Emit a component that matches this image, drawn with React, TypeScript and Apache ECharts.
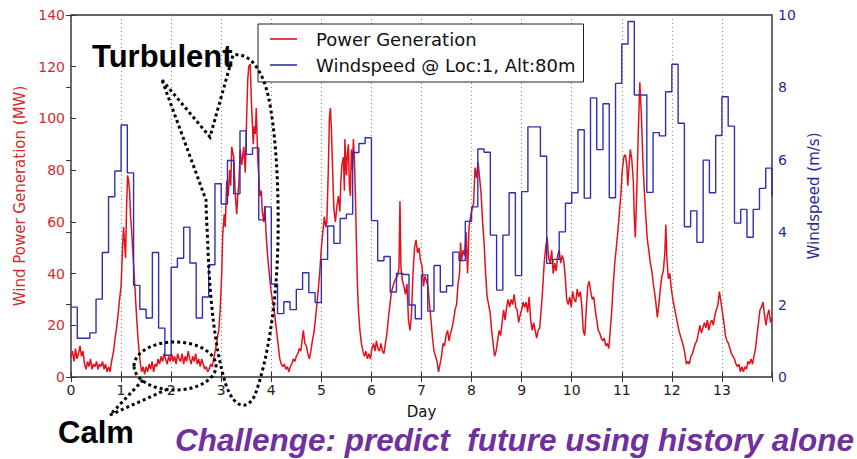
import React, { useEffect, useRef } from "react";
import * as echarts from "echarts";

// ---------- data ----------
// Power generation (MW) : [day, MW]
const powerGeneration: [number, number][] = [
  [0, 8], [0.03, 10], [0.06, 6], [0.09, 11], [0.12, 7], [0.15, 9], [0.18, 12], [0.21, 8], [0.24, 10], [0.27, 5],
  [0.3, 3], [0.33, 6], [0.36, 4], [0.39, 7], [0.42, 3], [0.45, 5], [0.48, 4], [0.51, 6], [0.54, 3], [0.57, 5],
  [0.6, 4], [0.63, 6], [0.66, 3], [0.69, 5], [0.72, 2], [0.75, 4], [0.78, 2], [0.81, 6], [0.85, 10], [0.88, 15],
  [0.91, 19], [0.94, 24], [0.97, 30], [1.0, 35], [1.03, 50], [1.05, 58], [1.07, 52], [1.09, 46], [1.11, 66], [1.13, 78],
  [1.15, 76], [1.17, 72], [1.19, 62], [1.21, 57], [1.23, 50], [1.26, 40], [1.29, 30], [1.32, 20], [1.35, 12], [1.38, 6],
  [1.41, 2], [1.44, 4], [1.47, 1], [1.5, 4], [1.53, 2], [1.56, 5], [1.59, 3], [1.62, 6], [1.65, 2], [1.68, 5],
  [1.71, 4], [1.74, 7], [1.77, 5], [1.8, 8], [1.83, 6], [1.86, 9], [1.89, 7], [1.92, 5], [1.95, 8], [1.98, 6],
  [2.01, 9], [2.04, 6], [2.07, 8], [2.1, 5], [2.13, 9], [2.16, 7], [2.19, 6], [2.22, 9], [2.25, 5], [2.28, 8],
  [2.31, 6], [2.34, 10], [2.37, 7], [2.4, 5], [2.43, 8], [2.46, 6], [2.49, 9], [2.52, 5], [2.55, 7], [2.58, 4],
  [2.61, 7], [2.64, 5], [2.67, 3], [2.7, 4], [2.73, 2], [2.76, 3], [2.79, 5], [2.82, 4], [2.86, 8], [2.9, 12],
  [2.93, 16], [2.95, 18], [2.98, 26], [3.01, 40], [3.03, 55], [3.06, 63], [3.08, 58], [3.11, 76], [3.14, 70], [3.17, 80],
  [3.19, 74], [3.21, 89], [3.25, 85], [3.28, 71], [3.31, 63], [3.33, 70], [3.35, 74], [3.38, 88], [3.41, 82], [3.45, 89],
  [3.48, 79], [3.51, 102], [3.53, 115], [3.55, 120], [3.58, 121], [3.6, 108], [3.62, 99], [3.64, 90], [3.66, 97], [3.68, 94],
  [3.7, 104], [3.73, 84], [3.75, 78], [3.77, 70], [3.8, 72], [3.82, 64], [3.85, 60], [3.87, 66], [3.9, 54], [3.93, 46],
  [3.96, 40], [3.99, 34], [4.02, 30], [4.05, 27], [4.08, 22], [4.11, 17], [4.14, 12], [4.17, 7], [4.2, 5], [4.23, 4],
  [4.26, 5], [4.29, 3], [4.32, 4], [4.35, 2], [4.38, 4], [4.41, 5], [4.44, 7], [4.47, 6], [4.5, 8], [4.53, 9],
  [4.56, 11], [4.59, 10], [4.62, 15], [4.64, 18], [4.67, 13], [4.7, 12], [4.73, 9], [4.76, 7], [4.79, 10], [4.82, 14],
  [4.85, 17], [4.88, 22], [4.91, 28], [4.94, 34], [4.97, 41], [5.0, 50], [5.03, 56], [5.06, 62], [5.09, 58], [5.11, 60],
  [5.14, 81], [5.16, 100], [5.18, 104], [5.2, 96], [5.23, 77], [5.25, 65], [5.28, 60], [5.31, 66], [5.34, 70], [5.37, 64],
  [5.39, 76], [5.41, 82], [5.44, 85], [5.46, 72], [5.47, 92], [5.5, 78], [5.52, 86], [5.54, 90], [5.56, 74], [5.58, 70],
  [5.6, 88], [5.62, 80], [5.64, 92], [5.66, 84], [5.68, 70], [5.7, 52], [5.72, 36], [5.74, 26], [5.77, 18], [5.8, 13],
  [5.83, 10], [5.86, 8], [5.89, 10], [5.92, 7], [5.95, 9], [5.98, 7], [6.01, 11], [6.04, 13], [6.07, 10], [6.1, 14],
  [6.13, 11], [6.16, 10], [6.19, 13], [6.22, 10], [6.25, 9], [6.28, 13], [6.31, 17], [6.34, 23], [6.37, 28], [6.4, 33],
  [6.43, 35], [6.46, 37], [6.49, 38], [6.52, 39], [6.55, 42], [6.57, 68], [6.59, 42], [6.62, 37], [6.65, 35], [6.68, 32],
  [6.71, 36], [6.74, 22], [6.77, 18], [6.8, 24], [6.83, 40], [6.86, 50], [6.89, 53], [6.92, 48], [6.95, 50], [6.98, 45],
  [7.01, 43], [7.04, 35], [7.07, 39], [7.1, 37], [7.13, 35], [7.16, 28], [7.19, 22], [7.22, 15], [7.25, 10], [7.28, 8],
  [7.31, 6], [7.34, 2], [7.37, 5], [7.4, 8], [7.43, 13], [7.46, 12], [7.49, 16], [7.52, 18], [7.55, 14], [7.58, 17],
  [7.61, 19], [7.64, 22], [7.67, 26], [7.7, 28], [7.73, 36], [7.76, 40], [7.78, 52], [7.8, 45], [7.83, 49], [7.86, 47],
  [7.89, 56], [7.92, 40], [7.95, 58], [7.98, 62], [8.01, 65], [8.04, 67], [8.07, 81], [8.1, 77], [8.13, 83], [8.16, 77],
  [8.19, 71], [8.22, 60], [8.25, 52], [8.28, 40], [8.31, 31], [8.34, 28], [8.37, 25], [8.4, 18], [8.43, 13], [8.46, 8],
  [8.49, 10], [8.52, 14], [8.55, 18], [8.58, 16], [8.61, 21], [8.64, 26], [8.67, 22], [8.7, 27], [8.73, 30], [8.76, 27],
  [8.79, 30], [8.82, 28], [8.85, 32], [8.88, 27], [8.91, 26], [8.94, 21], [8.97, 24], [9.0, 26], [9.03, 29], [9.06, 27],
  [9.09, 29], [9.12, 25], [9.15, 31], [9.18, 22], [9.21, 18], [9.24, 21], [9.27, 18], [9.3, 15], [9.33, 18], [9.36, 19],
  [9.39, 26], [9.42, 34], [9.45, 44], [9.48, 50], [9.51, 54], [9.54, 46], [9.57, 44], [9.6, 49], [9.63, 40], [9.66, 44],
  [9.69, 41], [9.72, 47], [9.75, 49], [9.78, 44], [9.81, 47], [9.84, 45], [9.87, 39], [9.9, 30], [9.93, 28], [9.96, 31],
  [9.99, 27], [10.02, 33], [10.05, 30], [10.08, 29], [10.11, 34], [10.14, 31], [10.17, 33], [10.2, 28], [10.23, 18], [10.26, 16],
  [10.29, 26], [10.32, 35], [10.35, 37], [10.38, 33], [10.41, 30], [10.44, 31], [10.47, 26], [10.5, 22], [10.53, 18], [10.56, 17],
  [10.59, 15], [10.62, 14], [10.65, 15], [10.68, 12], [10.71, 13], [10.74, 11], [10.77, 18], [10.8, 26], [10.83, 36], [10.86, 44],
  [10.89, 50], [10.92, 56], [10.95, 63], [10.98, 70], [11.01, 80], [11.04, 85], [11.07, 86], [11.1, 82], [11.12, 74], [11.15, 83],
  [11.17, 88], [11.2, 84], [11.23, 76], [11.25, 62], [11.27, 54], [11.3, 72], [11.33, 95], [11.36, 114], [11.39, 102], [11.42, 84],
  [11.45, 72], [11.48, 62], [11.51, 53], [11.54, 49], [11.57, 44], [11.6, 41], [11.63, 36], [11.66, 32], [11.69, 27], [11.71, 23],
  [11.74, 28], [11.77, 34], [11.8, 39], [11.83, 41], [11.86, 48], [11.88, 59], [11.9, 46], [11.93, 38], [11.96, 40], [11.99, 34],
  [12.02, 30], [12.05, 27], [12.08, 24], [12.11, 21], [12.14, 18], [12.17, 16], [12.2, 14], [12.23, 12], [12.26, 9], [12.29, 5],
  [12.32, 6], [12.35, 5], [12.38, 8], [12.41, 9], [12.44, 11], [12.47, 13], [12.5, 14], [12.53, 17], [12.56, 20], [12.59, 17],
  [12.62, 19], [12.65, 21], [12.68, 19], [12.71, 22], [12.74, 18], [12.77, 21], [12.8, 22], [12.83, 20], [12.86, 24], [12.89, 26],
  [12.92, 28], [12.95, 33], [12.98, 29], [13.01, 25], [13.04, 21], [13.07, 16], [13.1, 14], [13.13, 13], [13.16, 11], [13.19, 9],
  [13.22, 8], [13.25, 7], [13.28, 5], [13.31, 4], [13.34, 5], [13.37, 2], [13.4, 4], [13.43, 2], [13.46, 4], [13.49, 3],
  [13.52, 6], [13.55, 5], [13.58, 7], [13.61, 5], [13.64, 8], [13.67, 11], [13.7, 16], [13.73, 21], [13.76, 26], [13.79, 27],
  [13.82, 29], [13.85, 24], [13.88, 20], [13.91, 24], [13.94, 26], [13.97, 21], [14.0, 23],
];

// Windspeed (m/s), one value per 3-hour step (8 per day), days 0..14
const WIND_STEP_DAYS = 0.125;
const windspeed: number[] = [
  1.93, 1.07, 1.07, 1.22, 2.15, 3.44, 4.98, 5.69,
  6.96, 5.64, 2.53, 1.87, 1.63, 3.44, 1.35, 0.6,
  3.03, 3.28, 4.14, 3.15, 1.63, 2.21, 3.1, 5.34,
  4.78, 5.98, 5.06, 6.8, 6.15, 6.33, 4.34, 4.7,
  2.57, 1.75, 2.08, 1.86, 2.42, 2.88, 2.33, 2.06,
  3.25, 4.17, 3.69, 4.38, 4.5, 6.2, 6.45, 6.61,
  4.32, 3.21, 3.33, 2.35, 2.86, 2.83, 1.99, 1.61,
  2.82, 1.82, 3.08, 2.35, 2.52, 3.45, 3.22, 4.3,
  4.7, 6.3, 6.21, 3.92, 2.4, 3.92, 5.09, 2.8,
  5.12, 6.91, 6.91, 6.1, 3.14, 3.25, 4.01, 4.8,
  5.09, 6.83, 4.94, 7.71, 6.28, 7.55, 4.95, 8.11,
  9.2, 9.82, 7.79, 7.79, 5.1, 6.75, 6.66, 7.88,
  8.64, 7.01, 4.15, 4.59, 3.72, 5.99, 5.09, 6.67,
  7.74, 6.93, 4.25, 4.63, 3.86, 4.63, 5.21, 5.77,
];
const windspeedAtEnd = 5.0;

const dayLabels = ["0", "1", "2", "3", "4", "5", "6", "7", "8", "9", "10", "11", "12", "13"];
const seriesNames = ["Power Generation", "Windspeed @ Loc:1, Alt:80m"];

// ---------- annotation outline (speech-bubble around the turbulent peak) ----------
const TURBULENT_OUTLINE =
  "M162 80 L210 137 L233 55 C250 52 262 70 268 95 C276 130 279 190 278 240 " +
  "C277 300 268 360 255 395 C248 410 235 410 226 385 C215 350 210 300 208 250 " +
  "C207 225 206 210 206 200 Z";
echarts.graphic.registerShape(
  "turbulentOutline",
  echarts.graphic.extendPath(TURBULENT_OUTLINE, {}) as any
);
const CALM_TAIL = "M143 380 L110 415 L168 389";
echarts.graphic.registerShape("calmTail", echarts.graphic.extendPath(CALM_TAIL, {}) as any);

const RED = "#e5101a";
const BLUE = "#2f2fb0";
const RED_TEXT = "#d22b2b";
const BLUE_TEXT = "#2a2a96";
const FONT = "'DejaVu Sans', Verdana, sans-serif";
const ANNOT_FONT = "'Liberation Sans', Arial, sans-serif";

export default function App() {
  const ref = useRef<HTMLDivElement>(null);

  useEffect(() => {
    if (!ref.current) return;
    const chart = echarts.init(ref.current, undefined, { renderer: "svg" });

    const windData: [number, number][] = windspeed.map((v, i) => [i * WIND_STEP_DAYS, v]);
    windData.push([windspeed.length * WIND_STEP_DAYS, windspeedAtEnd]);

    const dotted = { fill: "none", stroke: "#000", lineWidth: 3, lineDash: [3, 3] };

    const option: any = {
      animation: false,
      backgroundColor: "#ffffff",
      textStyle: { fontFamily: FONT },
      grid: {
        left: 71,
        right: 85,
        top: 15,
        bottom: 82,
        show: true,
        borderColor: "#333",
        borderWidth: 1.5,
        backgroundColor: "transparent",
      },
      legend: {
        show: true,
        orient: "vertical",
        left: 258,
        top: 24,
        padding: [5, 8, 7, 12],
        itemGap: 6,
        itemWidth: 27,
        itemHeight: 1.6,
        icon: "rect",
        backgroundColor: "#fff",
        borderColor: "#222",
        borderWidth: 1,
        data: seriesNames,
        textStyle: { fontSize: 18, color: "#111", fontFamily: FONT, lineHeight: 20, padding: [0, 0, 0, 14] },
      },
      xAxis: [
        {
          type: "value",
          min: 0,
          max: 14,
          interval: 1,
          position: "bottom",
          name: "Day",
          nameLocation: "middle",
          nameGap: 27,
          nameTextStyle: { fontSize: 15, color: "#111", fontFamily: FONT },
          axisLine: { show: false },
          axisTick: { show: true, inside: true, length: 5, lineStyle: { color: "#333" } },
          axisLabel: {
            fontSize: 14,
            color: "#222",
            margin: 6,
            fontFamily: FONT,
            formatter: (v: number) => dayLabels[v] ?? "",
          },
          splitLine: { show: true, lineStyle: { color: "#888", type: [1, 3], width: 1 } },
        },
        {
          type: "value",
          min: 0,
          max: 14,
          interval: 1,
          position: "top",
          axisLine: { show: false },
          axisTick: { show: true, inside: true, length: 5, lineStyle: { color: "#333" } },
          axisLabel: { show: false },
          splitLine: { show: false },
        },
      ],
      yAxis: [
        {
          type: "value",
          min: 0,
          max: 140,
          interval: 20,
          position: "left",
          name: "Wind Power Generation (MW)",
          nameLocation: "middle",
          nameRotate: 90,
          nameGap: 42,
          nameTextStyle: { fontSize: 15, color: RED_TEXT, fontFamily: FONT },
          axisLine: { show: false },
          axisTick: { show: true, inside: true, length: 5, lineStyle: { color: "#333" } },
          axisLabel: { fontSize: 14, color: RED_TEXT, margin: 6, fontFamily: FONT },
          splitLine: { show: false },
        },
        {
          type: "value",
          min: 0,
          max: 10,
          interval: 2,
          position: "right",
          name: "Windspeed (m/s)",
          nameLocation: "middle",
          nameRotate: 90,
          nameGap: 28,
          nameTextStyle: { fontSize: 15, color: BLUE_TEXT, fontFamily: FONT },
          axisLine: { show: false },
          axisTick: { show: true, inside: true, length: 5, lineStyle: { color: "#333" } },
          axisLabel: { fontSize: 14, color: BLUE_TEXT, margin: 6, fontFamily: FONT },
          splitLine: { show: false },
        },
      ],
      series: [
        {
          name: seriesNames[0],
          type: "line",
          xAxisIndex: 0,
          yAxisIndex: 0,
          data: powerGeneration,
          symbol: "none",
          showSymbol: false,
          lineStyle: { color: RED, width: 1.5 },
          itemStyle: { color: RED },
          z: 2,
        },
        {
          name: seriesNames[1],
          type: "line",
          xAxisIndex: 0,
          yAxisIndex: 1,
          step: "end",
          data: windData,
          symbol: "none",
          showSymbol: false,
          lineStyle: { color: BLUE, width: 1.4 },
          itemStyle: { color: BLUE },
          z: 3,
        },
      ],
      graphic: [
        { type: "turbulentOutline", x: 0, y: 0, z: 100, style: dotted },
        { type: "ellipse", z: 100, shape: { cx: 175, cy: 366, rx: 41, ry: 24 }, style: dotted },
        { type: "calmTail", x: 0, y: 0, z: 100, style: dotted },
        {
          type: "text",
          x: 92,
          y: 56,
          z: 101,
          style: {
            text: "Turbulent",
            font: `bold 31px ${ANNOT_FONT}`,
            fill: "#000",
            textAlign: "left",
            textVerticalAlign: "middle",
          },
        },
        {
          type: "text",
          x: 58,
          y: 432,
          z: 101,
          style: {
            text: "Calm",
            font: `bold 31px ${ANNOT_FONT}`,
            fill: "#000",
            textAlign: "left",
            textVerticalAlign: "middle",
          },
        },
        {
          type: "text",
          x: 175,
          y: 440,
          z: 101,
          style: {
            text: "Challenge: predict  future using history alone",
            font: `italic bold 31.5px ${ANNOT_FONT}`,
            fill: "#7030a0",
            textAlign: "left",
            textVerticalAlign: "middle",
          },
        },
      ],
    };

    chart.setOption(option);
    return () => chart.dispose();
  }, []);

  return (
    <div
      ref={ref}
      style={{ position: "fixed", left: 0, top: 0, width: 857, height: 459, background: "#fff" }}
    />
  );
}
